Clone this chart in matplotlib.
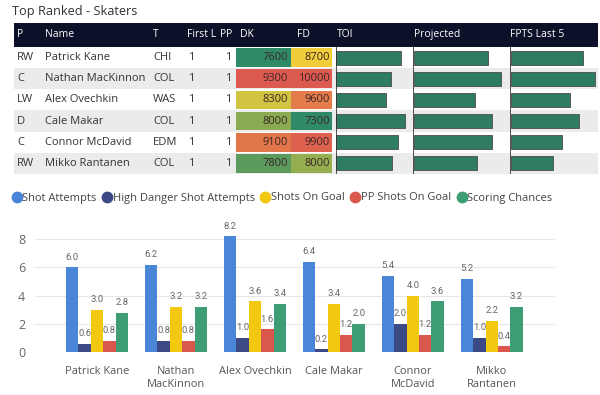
"""
Top ranked skaters - table of salaries / data bars plus grouped bar chart of shot stats.
"""

import numpy as np
import matplotlib.pyplot as plt
from matplotlib.colors import LinearSegmentedColormap, Normalize
from matplotlib.lines import Line2D

plt.rcParams['font.family'] = ['Open Sans', 'DejaVu Sans']

# ---- data ----
positions = ["RW", "C", "LW", "D", "C", "RW"]
players = ["Patrick Kane", "Nathan MacKinnon", "Alex Ovechkin", "Cale Makar",
           "Connor McDavid", "Mikko Rantanen"]
teams = ["CHI", "COL", "WAS", "COL", "EDM", "COL"]
first_line = [1, 1, 1, 1, 1, 1]
power_play = [1, 1, 1, 1, 1, 1]
dk_salary = [7600, 9300, 8300, 8000, 9100, 7800]
fd_salary = [8700, 10000, 9600, 7300, 9900, 8000]
toi = [21.1, 17.8, 16.2, 22.4, 20.1, 18.1]
projected = [15.3, 17.9, 12.6, 16.1, 16.1, 13.0]
fpts_last5 = [14.7, 17.2, 12.1, 13.9, 10.4, 8.6]

chart_labels = ["Patrick Kane", "Nathan\nMacKinnon", "Alex Ovechkin", "Cale Makar",
                "Connor\nMcDavid", "Mikko\nRantanen"]
series_names = ["Shot Attempts", "High Danger Shot Attempts", "Shots On Goal",
                "PP Shots On Goal", "Scoring Chances"]
shot_attempts = [6.0, 6.2, 8.2, 6.4, 5.4, 5.2]
high_danger = [0.6, 0.8, 1.0, 0.2, 2.0, 1.0]
shots_on_goal = [3.0, 3.2, 3.6, 3.4, 4.0, 2.2]
pp_shots = [0.8, 0.8, 1.6, 1.2, 1.2, 0.4]
scoring_chances = [2.8, 3.2, 3.4, 2.0, 3.6, 3.2]

series_colors = ["#4a86d8", "#3b4a84", "#f2c811", "#d9574c", "#3e9d74"]
bar_green = "#2e7d60"
header_bg = "#0c1029"
stripe = "#ebebeb"
text_col = "#333333"

W, H = 600, 395
fig = plt.figure(figsize=(6, 3.95), dpi=100)


def px_axes(x0, y0, x1, y1):
    # axes from pixel box (top-left origin)
    return fig.add_axes([x0 / W, 1 - y1 / H, (x1 - x0) / W, (y1 - y0) / H])


fig.text(12 / W, 1 - 11 / H, "Top Ranked - Skaters", fontsize=9.2, color=text_col,
         va="center", ha="left")

# ---- table ----
n = len(players)
hdr = 1.13
tab = px_axes(14, 23, 598, 174)
tab.set_xlim(14, 598)
tab.set_ylim(n - 0.5, -0.5 - hdr)
tab.axis("off")

tab.add_patch(plt.Rectangle((14, -0.5 - hdr), 584, hdr, color=header_bg, lw=0))
for i in range(n):
    if i % 2 == 1:
        tab.add_patch(plt.Rectangle((14, i - 0.5), 584, 1, color=stripe, lw=0))

headers = [("P", 17), ("Name", 45), ("T", 153), ("First L", 187), ("PP", 220),
           ("DK", 240), ("FD", 297), ("TOI", 337), ("Projected", 414), ("FPTS Last 5", 510)]
hy = -0.5 - hdr / 2
for lab, x in headers:
    tab.text(x, hy, lab, color="white", fontsize=7.5, va="center", ha="left")

cmap = LinearSegmentedColormap.from_list("rg", ["#2f8a68", "#f2d03a", "#dd5a50"])
dk_norm = Normalize(min(dk_salary), max(dk_salary))
fd_norm = Normalize(min(fd_salary), max(fd_salary))

fs = 8
for i in range(n):
    tab.text(17, i, positions[i], fontsize=fs, color=text_col, va="center")
    tab.text(45, i, players[i], fontsize=fs, color=text_col, va="center")
    tab.text(153, i, teams[i], fontsize=fs, color=text_col, va="center")
    tab.text(188, i, str(first_line[i]), fontsize=fs, color=text_col, va="center")
    tab.text(231, i, str(power_play[i]), fontsize=fs, color=text_col, va="center", ha="right")
    tab.add_patch(plt.Rectangle((236, i - 0.44), 55, 0.88, color=cmap(dk_norm(dk_salary[i])), lw=0))
    tab.add_patch(plt.Rectangle((291, i - 0.44), 41, 0.88, color=cmap(fd_norm(fd_salary[i])), lw=0))
    tab.text(288, i, str(dk_salary[i]), fontsize=fs, color="#3a2626", va="center", ha="right")
    tab.text(330, i, str(fd_salary[i]), fontsize=fs, color="#3a2626", va="center", ha="right")

# data bar columns
for vals, (x0, x1), xmax in [(toi, (336, 413), 25), (projected, (413, 510), 20),
                             (fpts_last5, (510, 598), 18)]:
    bax = px_axes(x0, 47, x1, 174)
    bax.patch.set_alpha(0)
    bax.barh(np.arange(n), vals, height=0.66, left=0.15, color=bar_green,
             edgecolor="#4a4a4a", linewidth=0.6)
    bax.set_xlim(0, xmax)
    bax.set_ylim(n - 0.5, -0.5)
    bax.axvline(0.1, color="#333333", lw=1.2)
    bax.axis("off")

# ---- bar chart ----
ax = px_axes(35, 228, 555, 352)
series = [shot_attempts, high_danger, shots_on_goal, pp_shots, scoring_chances]
x = np.arange(len(chart_labels))
bw = 0.157
for k, (vals, col) in enumerate(zip(series, series_colors)):
    xs = x + (k - 2) * bw
    ax.bar(xs, vals, width=bw, color=col, zorder=2)
    for xi, v in zip(xs, vals):
        ax.text(xi, v + 0.4, f"{v:.1f}", ha="center", va="bottom", fontsize=6.8,
                color="#666666", family=["Roboto", "DejaVu Sans"], zorder=3)

ax.set_xlim(-0.785, 5.8)
ax.set_ylim(0, 8.8)
ax.set_yticks([0, 2, 4, 6, 8])
ax.grid(axis="y", color="#e6e6e6", lw=0.8, zorder=0)
for s in ax.spines.values():
    s.set_visible(False)
ax.tick_params(axis="y", length=0, labelsize=9, labelcolor="#666666", pad=7)
ax.set_xticks(x)
ax.set_xticklabels(chart_labels, fontsize=7.9, color="#555555", linespacing=1.3, va="top")
ax.tick_params(axis="x", length=0, pad=10)

handles = [Line2D([], [], marker="o", ls="", markersize=7.5, color=c) for c in series_colors]
fig.legend(handles, series_names, loc="center left", bbox_to_anchor=(13 / W, 1 - 198 / H),
           ncol=5, frameon=False, fontsize=8, handlelength=0.7, handletextpad=0.15,
           columnspacing=0.6, borderaxespad=0, borderpad=0, labelcolor="#444444")

fig.savefig("out.png", dpi=100, facecolor="white")
